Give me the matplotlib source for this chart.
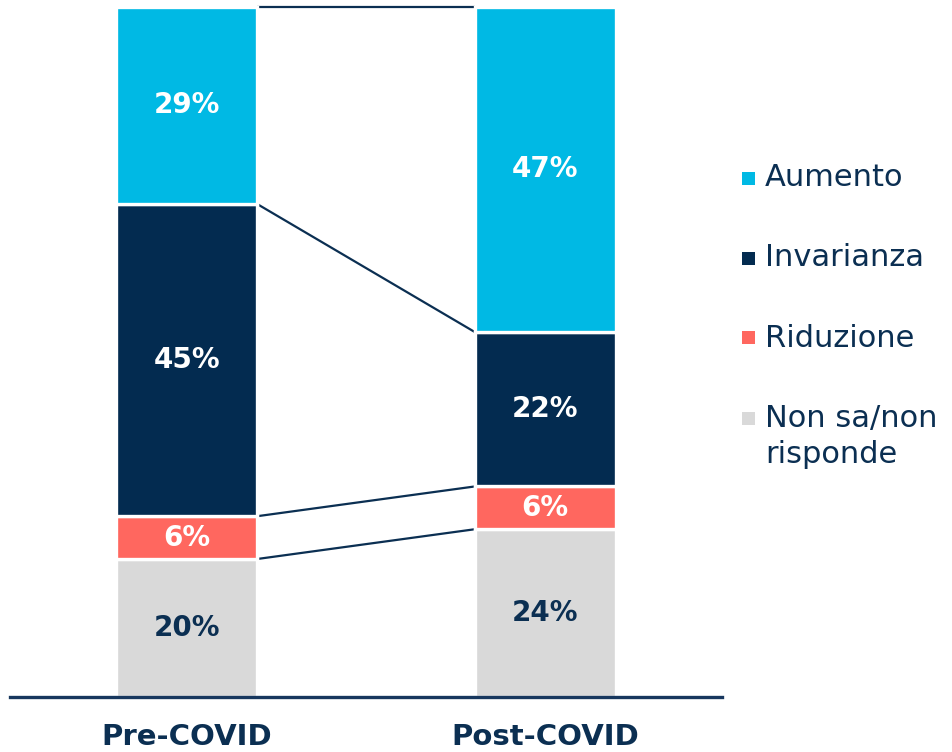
import matplotlib
matplotlib.use("Agg")
import matplotlib.pyplot as plt
from matplotlib.patches import Rectangle

# ---- data ----
categories = ["Pre-COVID", "Post-COVID"]
series_names = ["Non sa/non\nrisponde", "Riduzione", "Invarianza", "Aumento"]  # bottom -> top
non_sa = [20.0, 24.3]
riduzione = [6.2, 6.2]
invarianza = [45.2, 22.4]
aumento = [28.6, 47.1]
series_values = [non_sa, riduzione, invarianza, aumento]

colors = ["#D9D9D9", "#FF675F", "#032B50", "#00B9E4"]
label_colors = ["#0B2F52", "white", "white", "white"]
navy = "#0B2F52"

fig = plt.figure(figsize=(9.53, 7.52), dpi=100)
ax = fig.add_axes([10/953, 55/752, 712/953, 692/752])

x = [0, 1]
width = 0.394
bottoms = [0.0, 0.0]
tops_per_series = []
for vals, col, lcol in zip(series_values, colors, label_colors):
    ax.bar(x, vals, width=width, bottom=bottoms, color=col,
           edgecolor="white", linewidth=2.4, zorder=2)
    for xi, v, b in zip(x, vals, bottoms):
        ax.text(xi, b + v / 2, f"{round(v)}%", ha="center", va="center",
                color=lcol, fontsize=20, fontweight="bold", zorder=3)
    bottoms = [b + v for b, v in zip(bottoms, vals)]
    tops_per_series.append(list(bottoms))

# connecting lines between segment tops
for tops in tops_per_series:
    ax.plot([x[0] + width / 2, x[1] - width / 2], [tops[0], tops[1]],
            color=navy, linewidth=1.6, zorder=1, solid_capstyle="butt")

ax.set_xlim(-0.494, 1.494)
ax.set_ylim(0, 100.26)
ax.set_yticks([])
ax.set_xticks(x)
ax.set_xticklabels(categories, fontsize=21, fontweight="bold", color=navy)
ax.tick_params(axis="x", length=0, pad=19)
for s in ["top", "right", "left"]:
    ax.spines[s].set_visible(False)
ax.spines["bottom"].set_color("#17375E")
ax.spines["bottom"].set_linewidth(2.4)
ax.spines["bottom"].set_zorder(4)

# legend (top -> bottom)
legend_y = [178, 258, 338, 418]
for name, col, yp in zip(series_names[::-1], colors[::-1], legend_y):
    fig.add_artist(Rectangle(((748 - 6.5) / 953, 1 - (yp + 6.5) / 752), 13 / 953, 13 / 752,
                             transform=fig.transFigure, facecolor=col, edgecolor="none"))
    lines = name.split("\n")
    for i, ln in enumerate(lines):
        fig.text(765 / 953, 1 - (yp + 37 * i) / 752, ln, ha="left", va="center",
                 fontsize=22, color=navy)

fig.savefig("out.png", dpi=100, facecolor="white")
